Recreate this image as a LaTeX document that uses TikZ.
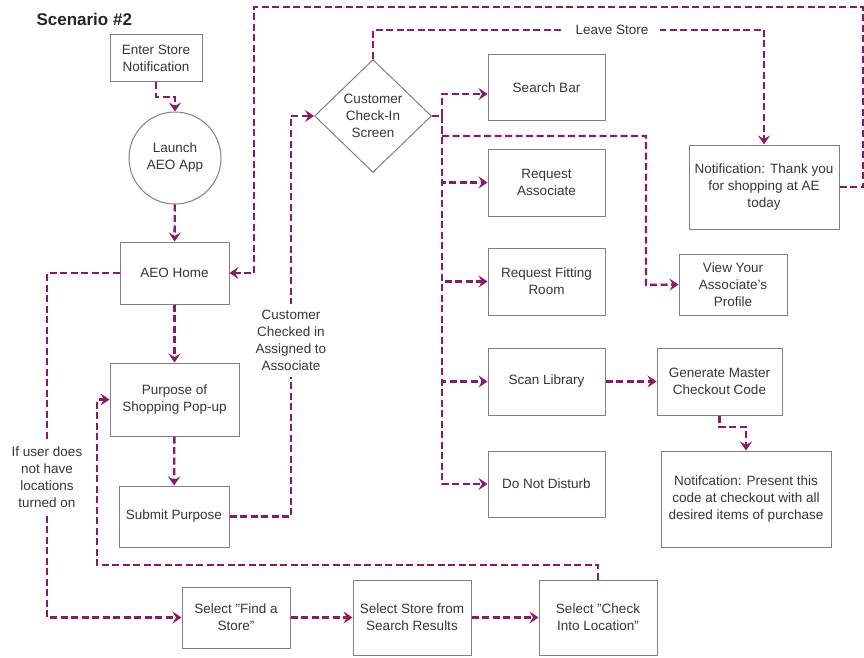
\documentclass[tikz,border=0pt]{standalone}
\usepackage{fontspec}
\setmainfont{Liberation Sans}
\usetikzlibrary{shapes.geometric}
\usetikzlibrary{arrows.meta}
\usetikzlibrary{positioning}
\definecolor{flowpurple}{RGB}{140,26,94}
\definecolor{boxgray}{RGB}{128,128,128}
\definecolor{textgray}{RGB}{55,55,55}
\begin{document}
\begin{tikzpicture}
    [
    x=1pt,y=-1pt,
    font=\fontsize{13.5}{17}\selectfont,
    stepbox/.style={draw=boxgray,line width=1pt,fill=white,text=textgray,align=center,inner sep=1pt},
    note/.style={fill=white,text=textgray,align=center,inner sep=2pt},
    flow/.style={draw=flowpurple,line width=2.4pt,dash pattern=on 7pt off 3.5pt},
    flowarrow/.style={flow,-{Stealth[length=9pt,width=12pt,inset=3.5pt]}},
    ]
    \useasboundingbox (0,0) rectangle (864,658);
    \node (title) at (33,19) [anchor=west,font=\fontsize{17}{20}\selectfont\bfseries,text=black!85] {Scenario \#2};

    % left column
    \node (enter) at (156,58.5) [stepbox,minimum width=92,minimum height=47] {Enter Store\\Notification};
    \node (launch) at (175,158) [stepbox,circle,minimum size=92] {Launch\\AEO App};
    \node (home) at (174.5,273) [stepbox,minimum width=109,minimum height=62] {AEO Home};
    \node (purpose) at (174.5,399.5) [stepbox,minimum width=129,minimum height=73] {Purpose of\\Shopping Pop-up};
    \node (submit) at (174,516.5) [stepbox,minimum width=110,minimum height=61] {Submit Purpose};

    % check-in screen and its options
    \node (checkin) at (373,116) [stepbox,diamond,aspect=1,minimum width=117,minimum height=113,inner sep=0pt] {Customer\\Check-In\\Screen};
    \node (search) at (546.5,88) [stepbox,minimum width=117,minimum height=66] {Search Bar};
    \node (reqassoc) at (546.5,182.5) [stepbox,minimum width=117,minimum height=67] {Request\\Associate};
    \node (fitting) at (546.5,281.5) [stepbox,minimum width=117,minimum height=67] {Request Fitting\\Room};
    \node (scan) at (546.5,381.5) [stepbox,minimum width=117,minimum height=67] {Scan Library};
    \node (dnd) at (546.5,484) [stepbox,minimum width=117,minimum height=66] {Do Not Disturb};

    % right column
    \node (thanks) at (764,187) [stepbox,minimum width=150,minimum height=84] {Notification: Thank you\\for shopping at AE\\today};
    \node (profile) at (733,284.5) [stepbox,minimum width=108,minimum height=61] {View Your\\Associate's\\Profile};
    \node (master) at (719.5,381.5) [stepbox,minimum width=125,minimum height=67] {Generate Master\\Checkout Code};
    \node (present) at (746,499) [stepbox,minimum width=170,minimum height=96] {Notifcation: Present this\\code at checkout with all\\desired items of purchase};

    % bottom row
    \node (find) at (236,617.5) [stepbox,minimum width=108,minimum height=61] {Select "Find a\\Store"};
    \node (results) at (412,617.5) [stepbox,minimum width=118,minimum height=75] {Select Store from\\Search Results};
    \node (checkloc) at (598,617.5) [stepbox,minimum width=118,minimum height=75] {Select "Check\\Into Location"};

    % main flow
    \draw [flowarrow] (enter.south) |- (175,97) -- (launch.north);
    \draw [flowarrow] (launch) to (home);
    \draw [flowarrow] (home) to (purpose);
    \draw [flowarrow] (purpose) to (submit);
    \draw [flowarrow] (submit.east) -| (291,116) node [note,pos=0.72,inner ysep=6pt] {Customer\\Checked in\\Assigned to\\Associate} -- (checkin.west);

    % options bus
    \coordinate (bus) at (442,116);
    \draw [flow] (checkin.east) -- (bus);
    \draw [flowarrow] (bus) |- ([yshift=-6]search.west);
    \draw [flowarrow] (bus) |- (reqassoc.west);
    \draw [flowarrow] (bus) |- (fitting.west);
    \draw [flowarrow] (bus) |- (scan.west);
    \draw [flowarrow] (bus) |- (dnd.west);
    \draw [flowarrow] (442,136) -| (646,285) -- (profile.west);
    \draw [flowarrow] (scan) to (master);
    \draw [flowarrow] (master.south) |- (746,427) -- (present.north);

    % leaving the store
    \draw [flowarrow] (checkin.north) |- (612,30) node [note,inner xsep=12pt] {Leave Store} -| (thanks.north);
    \draw [flowarrow] (thanks.east) -| (863,7) -| (254,273) -- (home.east);

    % no locations
    \draw [flowarrow] (home.west) -| (47,477) node [note,inner ysep=8pt] {If user does\\not have\\locations\\turned on} |- (find.west);
    \draw [flowarrow] (find) to (results);
    \draw [flowarrow] (results) to (checkloc);
    \draw [flowarrow] (checkloc.north) |- (97,565) |- (purpose.west);
  \end{tikzpicture}
\end{document}
